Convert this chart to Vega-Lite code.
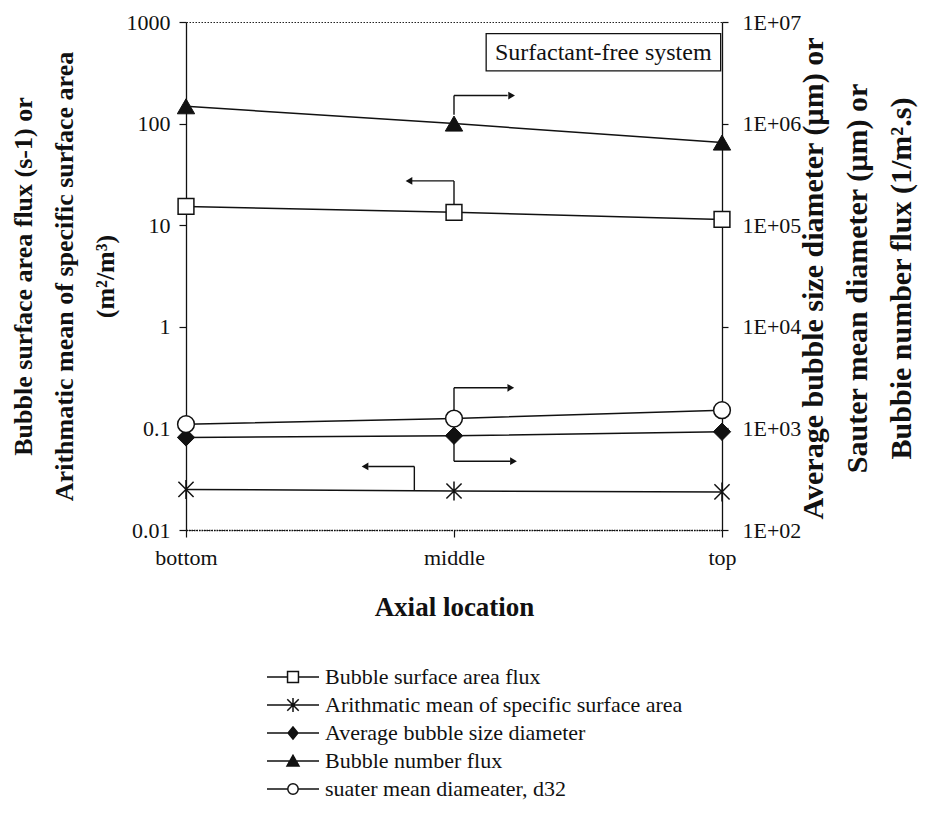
{
  "$schema": "https://vega.github.io/schema/vega-lite/v6.json",
  "autosize": {"type": "none"},
  "padding": {"left": 186, "top": 22, "right": 203, "bottom": 290},
  "width": 536,
  "height": 508,
  "background": "white",
  "config": {
    "font": "Liberation Serif",
    "view": {"stroke": "#222", "strokeDash": [1.5, 1.5], "strokeWidth": 1},
    "axis": {
      "grid": false,
      "labelFont": "Liberation Serif",
      "titleFont": "Liberation Serif",
      "labelFontSize": 22,
      "titleFontSize": 26,
      "titleFontWeight": "bold",
      "labelColor": "#111",
      "titleColor": "#111",
      "domainColor": "#111",
      "tickColor": "#111",
      "domainWidth": 1.3,
      "tickWidth": 1.2
    },
    "axisX": {
      "tickSize": 7,
      "labelPadding": 10,
      "titlePadding": 26,
      "titleFontSize": 27,
      "domainDash": [1.5, 1],
      "labelExpr": "['bottom', 'middle', 'top'][datum.value]",
      "labelFlush": false
    },
    "legend": {
      "labelFont": "Liberation Serif",
      "labelFontSize": 22,
      "labelColor": "#111",
      "labelLimit": 0
    }
  },
  "datasets": {
    "series": [
      {"loc": 0, "name": "Bubble surface area flux", "v": 15.3, "side": "left"},
      {"loc": 1, "name": "Bubble surface area flux", "v": 13.4, "side": "left"},
      {"loc": 2, "name": "Bubble surface area flux", "v": 11.4, "side": "left"},
      {"loc": 0, "name": "Arithmatic mean of specific surface area", "v": 0.0251, "side": "left"},
      {"loc": 1, "name": "Arithmatic mean of specific surface area", "v": 0.0242, "side": "left"},
      {"loc": 2, "name": "Arithmatic mean of specific surface area", "v": 0.0237, "side": "left"},
      {"loc": 0, "name": "Average bubble size diameter", "v": 815, "side": "right"},
      {"loc": 1, "name": "Average bubble size diameter", "v": 847, "side": "right"},
      {"loc": 2, "name": "Average bubble size diameter", "v": 927, "side": "right"},
      {"loc": 0, "name": "Bubble number flux", "v": 1480000, "side": "right"},
      {"loc": 1, "name": "Bubble number flux", "v": 1000000, "side": "right"},
      {"loc": 2, "name": "Bubble number flux", "v": 650000, "side": "right"},
      {"loc": 0, "name": "suater mean diameater, d32", "v": 1100, "side": "right"},
      {"loc": 1, "name": "suater mean diameater, d32", "v": 1250, "side": "right"},
      {"loc": 2, "name": "suater mean diameater, d32", "v": 1510, "side": "right"}
    ],
    "arrows": [
      {"x1": 1, "x2": 1, "y1": 122, "y2": 189},
      {"x1": 1, "x2": 1.2, "y1": 189, "y2": 189},
      {"x1": 1, "x2": 1, "y1": 16.2, "y2": 27.3},
      {"x1": 1, "x2": 0.84, "y1": 27.3, "y2": 27.3},
      {"x1": 1, "x2": 1, "y1": 0.143, "y2": 0.251},
      {"x1": 1, "x2": 1.2, "y1": 0.251, "y2": 0.251},
      {"x1": 1, "x2": 1, "y1": 0.0847, "y2": 0.0475},
      {"x1": 1, "x2": 1.21, "y1": 0.0475, "y2": 0.0475},
      {"x1": 0.852, "x2": 0.852, "y1": 0.0244, "y2": 0.0422},
      {"x1": 0.852, "x2": 0.68, "y1": 0.0422, "y2": 0.0422}
    ],
    "heads": [
      {"x": 1.215, "y": 189, "dir": "right"},
      {"x": 0.832, "y": 27.3, "dir": "left"},
      {"x": 1.212, "y": 0.251, "dir": "right"},
      {"x": 1.222, "y": 0.0475, "dir": "right"},
      {"x": 0.668, "y": 0.0422, "dir": "left"}
    ],
    "note": [
      {"x1": 1.12, "x2": 1.995, "y1": 330, "y2": 770, "xm": 1.557, "ym": 500, "label": "Surfactant-free system"}
    ]
  },
  "layer": [
    {
      "layer": [
        {
          "data": {"name": "series"},
          "transform": [{"filter": "datum.side === 'left'"}],
          "mark": {"type": "line", "color": "#111", "strokeWidth": 1.5},
          "encoding": {
            "x": {"field": "loc", "type": "quantitative", "scale": {"domain": [0, 2]}, "axis": {"values": [0, 1, 2]}, "title": "Axial location"},
            "y": {
              "field": "v",
              "type": "quantitative",
              "scale": {"type": "log", "domain": [0.01, 1000]},
              "axis": {
                "values": [0.01, 0.1, 1, 10, 100, 1000],
                "format": "~g",
                "tickSize": 7,
                "labelPadding": 9,
                "titlePadding": 8,
                "titleLineHeight": 41,
                "title": ["Bubble surface area flux (s-1) or", "Arithmatic mean of specific surface area", "(m²/m³)"]
              }
            },
            "detail": {"field": "name"}
          }
        },
        {
          "data": {"name": "note"},
          "mark": {"type": "rect", "fill": "white", "stroke": "#111", "strokeWidth": 1.3},
          "encoding": {
            "x": {"field": "x1", "type": "quantitative", "axis": {"values": [0, 1, 2]}, "title": "Axial location"},
            "x2": {"field": "x2"},
            "y": {"field": "y1", "type": "quantitative", "scale": {"type": "log", "domain": [0.01, 1000]}},
            "y2": {"field": "y2"}
          }
        },
        {
          "data": {"name": "note"},
          "mark": {"type": "text", "fontSize": 24, "color": "#111", "align": "center", "baseline": "middle"},
          "encoding": {
            "x": {"field": "xm", "type": "quantitative", "axis": {"values": [0, 1, 2]}, "title": "Axial location"},
            "y": {"field": "ym", "type": "quantitative", "scale": {"type": "log", "domain": [0.01, 1000]}},
            "text": {"field": "label"}
          }
        },
        {
          "data": {"name": "arrows"},
          "mark": {"type": "rule", "color": "#111", "strokeWidth": 1.4},
          "encoding": {
            "x": {"field": "x1", "type": "quantitative", "axis": {"values": [0, 1, 2]}, "title": "Axial location"},
            "x2": {"field": "x2"},
            "y": {"field": "y1", "type": "quantitative", "scale": {"type": "log", "domain": [0.01, 1000]}},
            "y2": {"field": "y2"}
          }
        },
        {
          "data": {"name": "heads"},
          "transform": [{"filter": "datum.dir === 'right'"}],
          "mark": {"type": "point", "shape": "triangle-right", "filled": true, "color": "#111", "size": 60, "opacity": 1},
          "encoding": {
            "x": {"field": "x", "type": "quantitative", "axis": {"values": [0, 1, 2]}, "title": "Axial location"},
            "y": {"field": "y", "type": "quantitative", "scale": {"type": "log", "domain": [0.01, 1000]}}
          }
        },
        {
          "data": {"name": "heads"},
          "transform": [{"filter": "datum.dir === 'left'"}],
          "mark": {"type": "point", "shape": "triangle-left", "filled": true, "color": "#111", "size": 60, "opacity": 1},
          "encoding": {
            "x": {"field": "x", "type": "quantitative", "axis": {"values": [0, 1, 2]}, "title": "Axial location"},
            "y": {"field": "y", "type": "quantitative", "scale": {"type": "log", "domain": [0.01, 1000]}}
          }
        },
        {
          "data": {"name": "series"},
          "transform": [{"filter": "datum.name === 'Bubble surface area flux'"}],
          "mark": {"type": "point", "shape": "square", "filled": true, "fill": "white", "stroke": "#111", "strokeWidth": 1.5, "size": 250, "opacity": 1},
          "encoding": {
            "x": {"field": "loc", "type": "quantitative", "axis": {"values": [0, 1, 2]}, "title": "Axial location"},
            "y": {"field": "v", "type": "quantitative", "scale": {"type": "log", "domain": [0.01, 1000]}}
          }
        },
        {
          "data": {"name": "series"},
          "transform": [{"filter": "datum.name === 'Arithmatic mean of specific surface area'"}],
          "mark": {"type": "point", "shape": "M-0.8,-0.8L0.8,0.8M-0.8,0.8L0.8,-0.8M0,-1V1", "filled": false, "stroke": "#111", "strokeWidth": 1.5, "size": 360, "opacity": 1},
          "encoding": {
            "x": {"field": "loc", "type": "quantitative", "axis": {"values": [0, 1, 2]}, "title": "Axial location"},
            "y": {"field": "v", "type": "quantitative", "scale": {"type": "log", "domain": [0.01, 1000]}}
          }
        },
        {
          "data": {"name": "series"},
          "mark": {"type": "point", "opacity": 0, "stroke": "#111", "strokeWidth": 1.5},
          "encoding": {
            "x": {"field": "loc", "type": "quantitative", "axis": {"values": [0, 1, 2]}, "title": "Axial location"},
            "shape": {
              "field": "name",
              "type": "nominal",
              "scale": {
                "domain": ["Bubble surface area flux", "Arithmatic mean of specific surface area", "Average bubble size diameter", "Bubble number flux", "suater mean diameater, d32"],
                "range": [
                  "M-1,0H-0.21M0.21,0H1M-0.21,-0.21H0.21V0.21H-0.21Z",
                  "M-1,0H1M-0.22,-0.22L0.22,0.22M-0.22,0.22L0.22,-0.22M0,-0.27V0.27",
                  "M-1,0H1M0,-0.23L0.19,0L0,0.23L-0.19,0Z",
                  "M-1,0H1M0,-0.22L0.23,0.19H-0.23Z",
                  "M-1,0H-0.2M0.2,0H1M0.2,0A0.2,0.2,0,1,1,-0.2,0A0.2,0.2,0,1,1,0.2,0Z"
                ]
              },
              "legend": {
                "title": null,
                "orient": "none",
                "legendX": 80,
                "legendY": 641,
                "direction": "vertical",
                "symbolSize": 2704,
                "symbolStrokeWidth": 1.5,
                "symbolStrokeColor": "#111",
                "symbolOpacity": 1,
                "labelOffset": 5,
                "clipHeight": 28,
                "rowPadding": 0,
                "encode": {"symbols": {"update": {"opacity": {"value": 1}, "stroke": {"value": "#111"}, "strokeWidth": {"value": 1.5}}}}
              }
            },
            "fill": {
              "field": "name",
              "type": "nominal",
              "scale": {
                "domain": ["Bubble surface area flux", "Arithmatic mean of specific surface area", "Average bubble size diameter", "Bubble number flux", "suater mean diameater, d32"],
                "range": ["white", "white", "#111", "#111", "white"]
              },
              "legend": {
                "title": null,
                "orient": "none",
                "legendX": 80,
                "legendY": 641,
                "direction": "vertical",
                "symbolSize": 2704,
                "symbolStrokeWidth": 1.5,
                "symbolStrokeColor": "#111",
                "symbolOpacity": 1,
                "labelOffset": 5,
                "clipHeight": 28,
                "rowPadding": 0,
                "encode": {"symbols": {"update": {"opacity": {"value": 1}, "stroke": {"value": "#111"}, "strokeWidth": {"value": 1.5}}}}
              }
            }
          }
        }
      ]
    },
    {
      "layer": [
        {
          "data": {"name": "series"},
          "transform": [{"filter": "datum.side === 'right'"}],
          "mark": {"type": "line", "color": "#111", "strokeWidth": 1.5},
          "encoding": {
            "x": {"field": "loc", "type": "quantitative", "axis": {"values": [0, 1, 2]}, "title": "Axial location"},
            "y": {
              "field": "v",
              "type": "quantitative",
              "scale": {"type": "log", "domain": [100, 10000000]},
              "axis": {
                "orient": "right",
                "values": [100, 1000, 10000, 100000, 1000000, 10000000],
                "labelExpr": "'1E+' + (datum.value < 1e10 ? '0' : '') + format(log(datum.value) / LN10, '.0f')",
                "tickSize": 6,
                "labelPadding": 14,
                "titleFontSize": 30,
                "titleAngle": 270,
                "titleBaseline": "top",
                "titleAlign": "center",
                "titleX": 76,
                "titleY": 256,
                "titleLineHeight": 44,
                "title": ["Average bubble size diameter (µm) or", "Sauter mean diameter (µm) or", "Bubbie number flux (1/m².s)"]
              }
            },
            "detail": {"field": "name"}
          }
        },
        {
          "data": {"name": "series"},
          "transform": [{"filter": "datum.name === 'Average bubble size diameter'"}],
          "mark": {"type": "point", "shape": "diamond", "filled": true, "fill": "#111", "stroke": "#111", "strokeWidth": 1, "size": 300, "opacity": 1},
          "encoding": {
            "x": {"field": "loc", "type": "quantitative", "axis": {"values": [0, 1, 2]}, "title": "Axial location"},
            "y": {"field": "v", "type": "quantitative", "scale": {"type": "log", "domain": [100, 10000000]}}
          }
        },
        {
          "data": {"name": "series"},
          "transform": [{"filter": "datum.name === 'Bubble number flux'"}],
          "mark": {"type": "point", "shape": "triangle-up", "filled": true, "fill": "#111", "stroke": "#111", "strokeWidth": 1, "size": 300, "opacity": 1},
          "encoding": {
            "x": {"field": "loc", "type": "quantitative", "axis": {"values": [0, 1, 2]}, "title": "Axial location"},
            "y": {"field": "v", "type": "quantitative", "scale": {"type": "log", "domain": [100, 10000000]}}
          }
        },
        {
          "data": {"name": "series"},
          "transform": [{"filter": "datum.name === 'suater mean diameater, d32'"}],
          "mark": {"type": "point", "shape": "circle", "filled": true, "fill": "white", "stroke": "#111", "strokeWidth": 1.5, "size": 280, "opacity": 1},
          "encoding": {
            "x": {"field": "loc", "type": "quantitative", "axis": {"values": [0, 1, 2]}, "title": "Axial location"},
            "y": {"field": "v", "type": "quantitative", "scale": {"type": "log", "domain": [100, 10000000]}}
          }
        }
      ]
    }
  ],
  "resolve": {"scale": {"y": "independent"}, "axis": {"y": "independent"}}
}
